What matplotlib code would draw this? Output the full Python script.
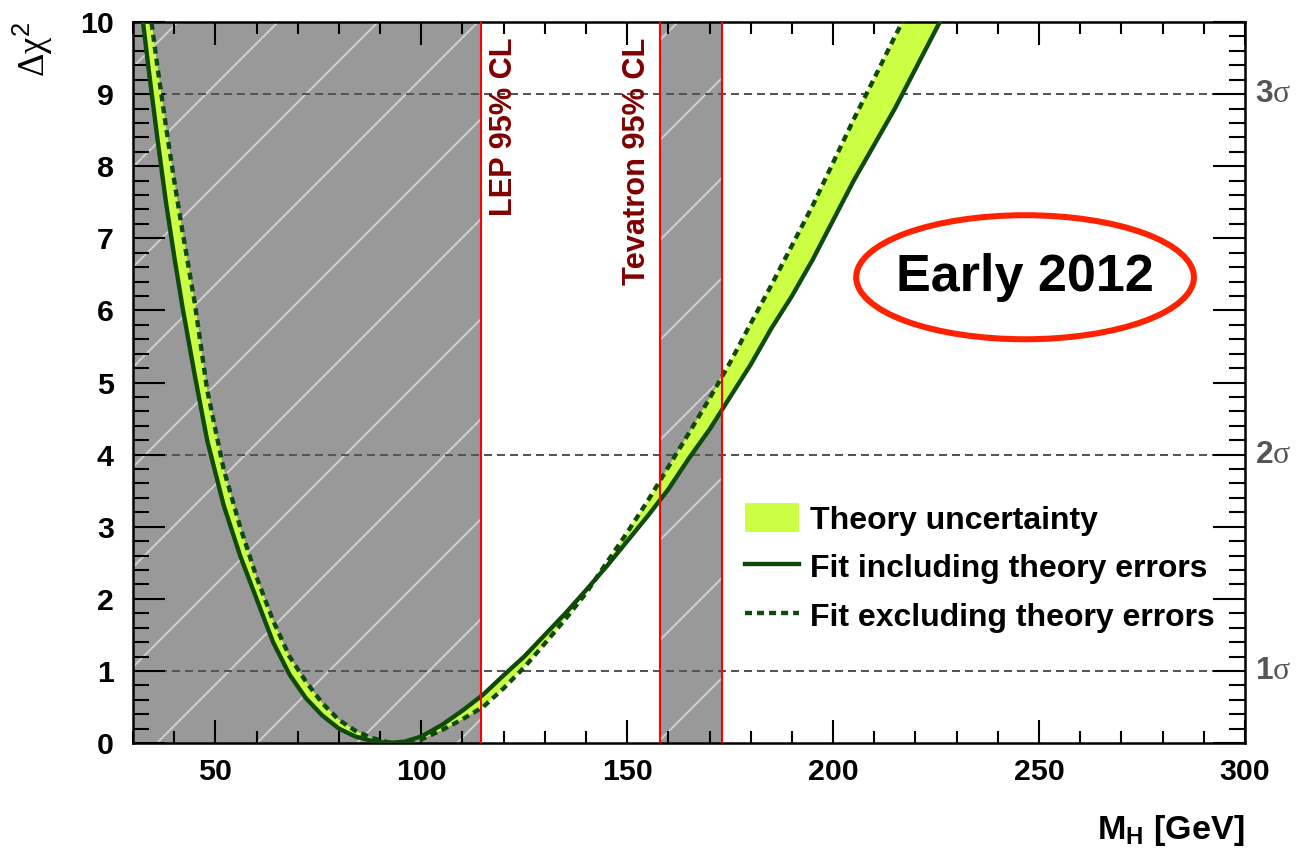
import matplotlib
matplotlib.use('Agg')
import matplotlib.pyplot as plt
from matplotlib.patches import Ellipse
from matplotlib.ticker import MultipleLocator

# Higgs mass scan [GeV]
mass = [30, 32, 34, 36, 38, 40, 42, 45, 48, 52, 56, 60, 64, 68, 72, 76, 80, 84, 88, 92, 96,
        100, 105, 110, 115, 120, 125, 130, 135, 140, 145, 150, 155, 160, 165, 170, 175,
        180, 185, 190, 195, 200, 205, 210, 215, 220, 225, 230]
# delta chi2, fit including theory errors (solid)
chi2_incl = [11.2, 10.2, 9.25, 8.35, 7.5, 6.75, 6.05, 5.1, 4.2, 3.3, 2.6, 2.0, 1.4, 0.95,
             0.62, 0.38, 0.2, 0.09, 0.03, 0.0, 0.02, 0.09, 0.25, 0.45, 0.67, 0.94, 1.2, 1.5,
             1.8, 2.12, 2.45, 2.8, 3.15, 3.52, 3.95, 4.35, 4.8, 5.25, 5.75, 6.2, 6.7, 7.25,
             7.8, 8.3, 8.8, 9.35, 9.9, 10.45]
# delta chi2, fit excluding theory errors (dashed)
chi2_excl = [12.8, 11.2, 10.2, 9.35, 8.55, 7.8, 7.1, 6.1, 4.9, 3.8, 3.0, 2.3, 1.7, 1.2,
             0.85, 0.55, 0.32, 0.17, 0.07, 0.01, 0.0, 0.05, 0.18, 0.33, 0.5, 0.76, 1.05,
             1.38, 1.72, 2.08, 2.5, 2.92, 3.36, 3.83, 4.3, 4.78, 5.28, 5.82, 6.35, 6.9, 7.45,
             8.05, 8.65, 9.22, 9.8, 10.35, 10.9, 11.5]

# direct search exclusions
lep_limit = 114.4
tevatron_excl = [158, 173]

# sigma levels on the right
sigma_chi2 = [1, 4, 9]
sigma_names = ['1', '2', '3']

DPI = 300
GREEN = '#0f4a0a'
YELLOW = '#ccff44'

plt.rcParams['font.family'] = ['Liberation Sans', 'DejaVu Sans']
plt.rcParams['mathtext.fontset'] = 'custom'
plt.rcParams['mathtext.rm'] = 'Liberation Serif'
plt.rcParams['mathtext.bf'] = 'Liberation Sans:bold'
plt.rcParams['mathtext.sf'] = 'Liberation Sans'
plt.rcParams['hatch.linewidth'] = 0.45

fig = plt.figure(figsize=(1299 / DPI, 852 / DPI), dpi=DPI)
ax = fig.add_axes([0.1024, 0.1279, 0.856, 0.8463])

# excluded regions
ax.axvspan(0, lep_limit, facecolor='#999999', edgecolor='#d0d0d0', hatch='/', lw=0, zorder=0)
ax.axvspan(tevatron_excl[0], tevatron_excl[1], facecolor='#999999', edgecolor='#d0d0d0',
           hatch='/', lw=0, zorder=0)

for c in sigma_chi2:
    ax.axhline(c, color='#555555', lw=0.48, ls=(0, (4, 2.5)), zorder=1)

ax.fill_between(mass, chi2_incl, chi2_excl, facecolor=YELLOW, edgecolor='none', lw=0,
                zorder=2, label='Theory uncertainty')
ax.plot(mass, chi2_incl, color=GREEN, lw=1.05, zorder=3, label='Fit including theory errors')
ax.plot(mass, chi2_excl, color=GREEN, lw=1.05, ls=(0, (1.6, 1.15)), zorder=3,
        label='Fit excluding theory errors')

for xv in [lep_limit] + tevatron_excl:
    ax.axvline(xv, color='#ff0000', lw=0.5, zorder=4)

ax.text(lep_limit + 2.0, 9.78, 'LEP 95% CL', rotation=90, ha='left', va='top',
        color='#800000', fontsize=7.4, fontweight='bold', zorder=5)
ax.text(tevatron_excl[0] - 2.0, 9.78, 'Tevatron 95% CL', rotation=90, ha='right', va='top',
        color='#800000', fontsize=7.4, fontweight='bold', zorder=5)

# "Early 2012" stamp
ax.add_patch(Ellipse((246.6, 6.46), 82.0, 1.72, facecolor='white', edgecolor='#ff2200',
                     lw=1.45, zorder=5))
ax.text(246.6, 6.46, 'Early 2012', ha='center', va='center', fontsize=12.5,
        fontweight='bold', zorder=6)

ax.set_xlim(30, 300)
ax.set_ylim(0, 10)
ax.xaxis.set_major_locator(MultipleLocator(50))
ax.xaxis.set_minor_locator(MultipleLocator(10))
ax.yaxis.set_major_locator(MultipleLocator(1))
ax.yaxis.set_minor_locator(MultipleLocator(0.2))
ax.tick_params(which='both', direction='in', top=True, right=True, width=0.5, labelsize=7.3)
ax.tick_params(axis='x', which='major', length=5.5, pad=3.5)
ax.tick_params(axis='x', which='minor', length=2.9)
ax.tick_params(axis='y', which='major', length=7.7, pad=4.6)
ax.tick_params(axis='y', which='minor', length=3.8)
for lab in ax.get_xticklabels() + ax.get_yticklabels():
    lab.set_fontweight('bold')
for sp in ax.spines.values():
    sp.set_linewidth(0.6)

for c, n in zip(sigma_chi2, sigma_names):
    ax.text(1.009, c, n + r'$\mathrm{\sigma}$', transform=ax.get_yaxis_transform(),
            ha='left', va='center', fontsize=7.6, fontweight='bold', color='#555555')

ax.text(-0.09, 1.0, r'$\mathrm{\Delta\chi}^{\mathsf{2}}$', transform=ax.transAxes,
        rotation=90, ha='center', va='top', fontsize=8.8)
ax.text(1.0, -0.097, 'M' + r'$_{\mathbf{H}}$' + ' [GeV]', transform=ax.transAxes,
        ha='right', va='top', fontsize=8.2, fontweight='bold')

ax.legend(loc='upper left', bbox_to_anchor=(0.5504, 0.333), frameon=False, borderpad=0,
          borderaxespad=0, prop={'weight': 'bold', 'size': 7.7},
          handlelength=1.69, handleheight=1.03, handletextpad=0.34, labelspacing=0.5)

fig.savefig('out.png', dpi=DPI)
